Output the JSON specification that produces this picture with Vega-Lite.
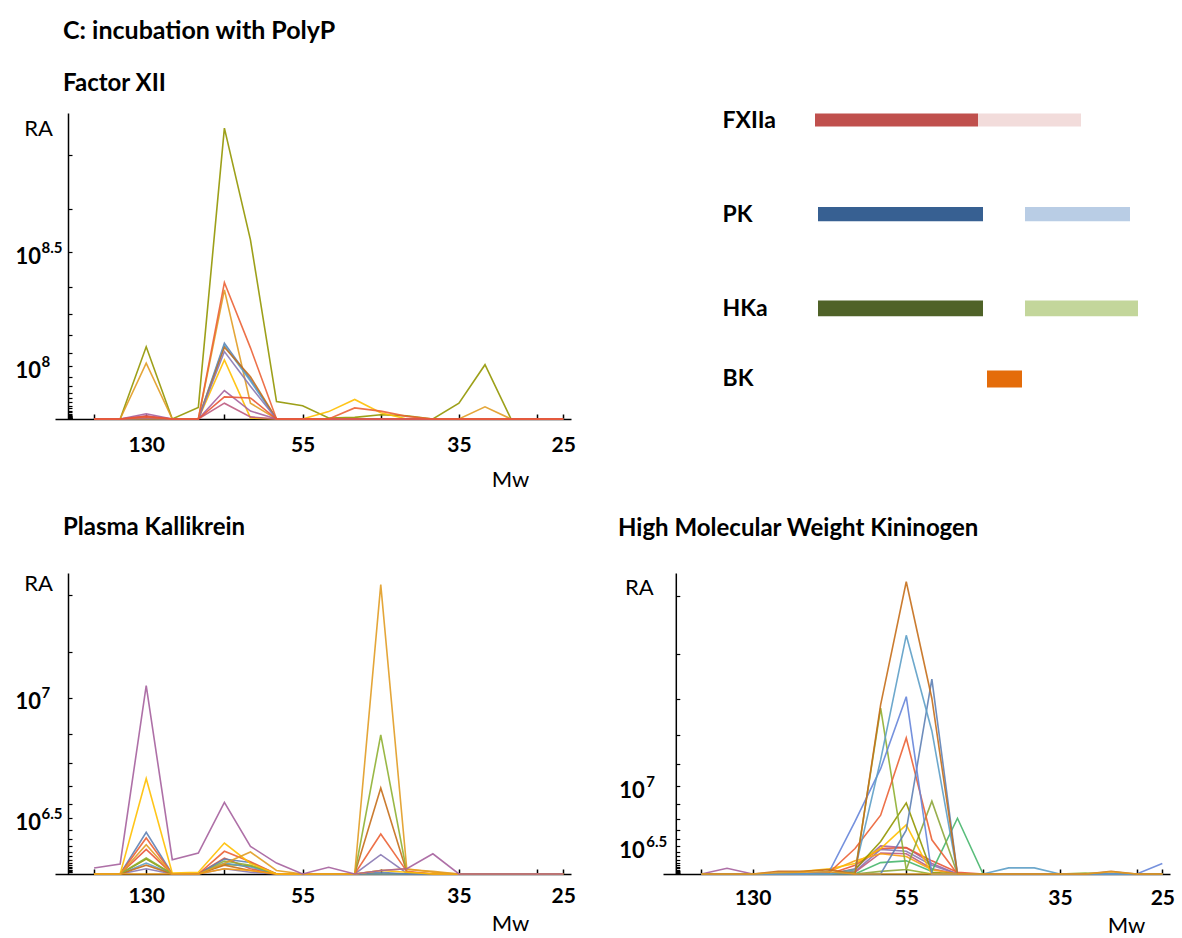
{
  "$schema": "https://vega.github.io/schema/vega-lite/v6.json",
  "background": "white",
  "padding": {"left": 15, "top": 19, "right": 0, "bottom": 0},
  "config": {
    "view": {"stroke": null},
    "font": "Lato",
    "axis": {"domainColor": "black", "tickColor": "black", "labelColor": "black", "titleColor": "black", "grid": false, "labelFont": "Lato", "titleFont": "Lato"}
  },
  "bounds": "flush",
  "columns": 2,
  "spacing": {"row": 154, "column": 92},
  "resolve": {"scale": {"color": "independent", "size": "independent"}},
  "datasets": {
    "fxii": [
      {"k":"10","s":1,"v":0},{"k":"10","s":2,"v":0},{"k":"10","s":3,"v":137e6},{"k":"10","s":4,"v":0},{"k":"10","s":5,"v":22e6},{"k":"10","s":6,"v":552e6},{"k":"10","s":7,"v":340e6},{"k":"10","s":8,"v":33e6},{"k":"10","s":9,"v":25e6},{"k":"10","s":10,"v":2e6},{"k":"10","s":11,"v":3e6},{"k":"10","s":12,"v":8e6},{"k":"10","s":13,"v":6e6},{"k":"10","s":14,"v":0},{"k":"10","s":15,"v":30e6},{"k":"10","s":16,"v":103e6},{"k":"10","s":17,"v":0},{"k":"10","s":18,"v":0},{"k":"10","s":19,"v":0},
      {"k":"2","s":1,"v":0},{"k":"2","s":2,"v":0},{"k":"2","s":3,"v":106e6},{"k":"2","s":4,"v":0},{"k":"2","s":5,"v":0},{"k":"2","s":6,"v":245e6},{"k":"2","s":7,"v":30e6},{"k":"2","s":8,"v":0},{"k":"2","s":9,"v":0},{"k":"2","s":10,"v":0},{"k":"2","s":11,"v":0},{"k":"2","s":12,"v":0},{"k":"2","s":13,"v":0},{"k":"2","s":14,"v":0},{"k":"2","s":15,"v":0},{"k":"2","s":16,"v":23e6},{"k":"2","s":17,"v":0},{"k":"2","s":18,"v":0},{"k":"2","s":19,"v":0},
      {"k":"8","s":1,"v":0},{"k":"8","s":2,"v":0},{"k":"8","s":3,"v":0},{"k":"8","s":4,"v":0},{"k":"8","s":5,"v":0},{"k":"8","s":6,"v":112e6},{"k":"8","s":7,"v":2e6},{"k":"8","s":8,"v":0},{"k":"8","s":9,"v":0},{"k":"8","s":10,"v":14e6},{"k":"8","s":11,"v":37e6},{"k":"8","s":12,"v":12e6},{"k":"8","s":13,"v":0},{"k":"8","s":14,"v":0},{"k":"8","s":15,"v":0},{"k":"8","s":16,"v":0},{"k":"8","s":17,"v":0},{"k":"8","s":18,"v":0},{"k":"8","s":19,"v":0},
      {"k":"1","s":1,"v":0},{"k":"1","s":2,"v":0},{"k":"1","s":3,"v":0},{"k":"1","s":4,"v":0},{"k":"1","s":5,"v":0},{"k":"1","s":6,"v":144e6},{"k":"1","s":7,"v":75e6},{"k":"1","s":8,"v":0},{"k":"1","s":9,"v":0},{"k":"1","s":10,"v":0},{"k":"1","s":11,"v":0},{"k":"1","s":12,"v":0},{"k":"1","s":13,"v":0},{"k":"1","s":14,"v":0},{"k":"1","s":15,"v":0},{"k":"1","s":16,"v":0},{"k":"1","s":17,"v":0},{"k":"1","s":18,"v":0},{"k":"1","s":19,"v":0},
      {"k":"7","s":1,"v":0},{"k":"7","s":2,"v":0},{"k":"7","s":3,"v":0},{"k":"7","s":4,"v":0},{"k":"7","s":5,"v":0},{"k":"7","s":6,"v":140e6},{"k":"7","s":7,"v":72e6},{"k":"7","s":8,"v":0},{"k":"7","s":9,"v":0},{"k":"7","s":10,"v":0},{"k":"7","s":11,"v":0},{"k":"7","s":12,"v":0},{"k":"7","s":13,"v":0},{"k":"7","s":14,"v":0},{"k":"7","s":15,"v":0},{"k":"7","s":16,"v":0},{"k":"7","s":17,"v":0},{"k":"7","s":18,"v":0},{"k":"7","s":19,"v":0},
      {"k":"6","s":1,"v":0},{"k":"6","s":2,"v":0},{"k":"6","s":3,"v":0},{"k":"6","s":4,"v":0},{"k":"6","s":5,"v":0},{"k":"6","s":6,"v":136e6},{"k":"6","s":7,"v":80e6},{"k":"6","s":8,"v":0},{"k":"6","s":9,"v":0},{"k":"6","s":10,"v":0},{"k":"6","s":11,"v":0},{"k":"6","s":12,"v":0},{"k":"6","s":13,"v":0},{"k":"6","s":14,"v":0},{"k":"6","s":15,"v":0},{"k":"6","s":16,"v":0},{"k":"6","s":17,"v":0},{"k":"6","s":18,"v":0},{"k":"6","s":19,"v":0},
      {"k":"5","s":1,"v":0},{"k":"5","s":2,"v":0},{"k":"5","s":3,"v":2e6},{"k":"5","s":4,"v":0},{"k":"5","s":5,"v":0},{"k":"5","s":6,"v":128e6},{"k":"5","s":7,"v":62e6},{"k":"5","s":8,"v":0},{"k":"5","s":9,"v":0},{"k":"5","s":10,"v":0},{"k":"5","s":11,"v":0},{"k":"5","s":12,"v":0},{"k":"5","s":13,"v":0},{"k":"5","s":14,"v":0},{"k":"5","s":15,"v":0},{"k":"5","s":16,"v":0},{"k":"5","s":17,"v":0},{"k":"5","s":18,"v":0},{"k":"5","s":19,"v":0},
      {"k":"9","s":1,"v":0},{"k":"9","s":2,"v":0},{"k":"9","s":3,"v":10e6},{"k":"9","s":4,"v":0},{"k":"9","s":5,"v":0},{"k":"9","s":6,"v":54e6},{"k":"9","s":7,"v":15e6},{"k":"9","s":8,"v":0},{"k":"9","s":9,"v":0},{"k":"9","s":10,"v":0},{"k":"9","s":11,"v":0},{"k":"9","s":12,"v":0},{"k":"9","s":13,"v":0},{"k":"9","s":14,"v":0},{"k":"9","s":15,"v":0},{"k":"9","s":16,"v":0},{"k":"9","s":17,"v":0},{"k":"9","s":18,"v":0},{"k":"9","s":19,"v":0},
      {"k":"14","s":1,"v":0},{"k":"14","s":2,"v":0},{"k":"14","s":3,"v":6e6},{"k":"14","s":4,"v":0},{"k":"14","s":5,"v":0},{"k":"14","s":6,"v":30e6},{"k":"14","s":7,"v":4e6},{"k":"14","s":8,"v":0},{"k":"14","s":9,"v":0},{"k":"14","s":10,"v":0},{"k":"14","s":11,"v":0},{"k":"14","s":12,"v":0},{"k":"14","s":13,"v":0},{"k":"14","s":14,"v":0},{"k":"14","s":15,"v":0},{"k":"14","s":16,"v":0},{"k":"14","s":17,"v":0},{"k":"14","s":18,"v":0},{"k":"14","s":19,"v":0},
      {"k":"4","s":1,"v":0},{"k":"4","s":2,"v":0},{"k":"4","s":3,"v":3e6},{"k":"4","s":4,"v":0},{"k":"4","s":5,"v":0},{"k":"4","s":6,"v":259e6},{"k":"4","s":7,"v":135e6},{"k":"4","s":8,"v":0},{"k":"4","s":9,"v":0},{"k":"4","s":10,"v":0},{"k":"4","s":11,"v":21e6},{"k":"4","s":12,"v":15e6},{"k":"4","s":13,"v":5e6},{"k":"4","s":14,"v":0},{"k":"4","s":15,"v":0},{"k":"4","s":16,"v":0},{"k":"4","s":17,"v":0},{"k":"4","s":18,"v":0},{"k":"4","s":19,"v":0},
      {"k":"11","s":1,"v":0},{"k":"11","s":2,"v":0},{"k":"11","s":3,"v":5e6},{"k":"11","s":4,"v":0},{"k":"11","s":5,"v":0},{"k":"11","s":6,"v":42e6},{"k":"11","s":7,"v":40e6},{"k":"11","s":8,"v":0},{"k":"11","s":9,"v":0},{"k":"11","s":10,"v":0},{"k":"11","s":11,"v":0},{"k":"11","s":12,"v":0},{"k":"11","s":13,"v":0},{"k":"11","s":14,"v":0},{"k":"11","s":15,"v":0},{"k":"11","s":16,"v":0},{"k":"11","s":17,"v":0},{"k":"11","s":18,"v":0},{"k":"11","s":19,"v":0}
    ],
    "pk": [
      {"k":"11","s":1,"v":0},{"k":"11","s":2,"v":0},{"k":"11","s":3,"v":1.4e6},{"k":"11","s":4,"v":0},{"k":"11","s":5,"v":0},{"k":"11","s":6,"v":0.9e6},{"k":"11","s":7,"v":0.3e6},{"k":"11","s":8,"v":0},{"k":"11","s":9,"v":0},{"k":"11","s":10,"v":0},{"k":"11","s":11,"v":0},{"k":"11","s":12,"v":0},{"k":"11","s":13,"v":0},{"k":"11","s":14,"v":0},{"k":"11","s":15,"v":0},{"k":"11","s":16,"v":0},{"k":"11","s":17,"v":0},{"k":"11","s":18,"v":0},{"k":"11","s":19,"v":0},
      {"k":"10","s":1,"v":0},{"k":"10","s":2,"v":0},{"k":"10","s":3,"v":0.85e6},{"k":"10","s":4,"v":0},{"k":"10","s":5,"v":0},{"k":"10","s":6,"v":0.55e6},{"k":"10","s":7,"v":0.45e6},{"k":"10","s":8,"v":0},{"k":"10","s":9,"v":0},{"k":"10","s":10,"v":0},{"k":"10","s":11,"v":0},{"k":"10","s":12,"v":0},{"k":"10","s":13,"v":0},{"k":"10","s":14,"v":0},{"k":"10","s":15,"v":0},{"k":"10","s":16,"v":0},{"k":"10","s":17,"v":0},{"k":"10","s":18,"v":0},{"k":"10","s":19,"v":0},
      {"k":"7","s":1,"v":0},{"k":"7","s":2,"v":0},{"k":"7","s":3,"v":0.62e6},{"k":"7","s":4,"v":0},{"k":"7","s":5,"v":0},{"k":"7","s":6,"v":0.62e6},{"k":"7","s":7,"v":0.4e6},{"k":"7","s":8,"v":0},{"k":"7","s":9,"v":0},{"k":"7","s":10,"v":0},{"k":"7","s":11,"v":0},{"k":"7","s":12,"v":0},{"k":"7","s":13,"v":0},{"k":"7","s":14,"v":0},{"k":"7","s":15,"v":0},{"k":"7","s":16,"v":0},{"k":"7","s":17,"v":0},{"k":"7","s":18,"v":0},{"k":"7","s":19,"v":0},
      {"k":"5","s":1,"v":0},{"k":"5","s":2,"v":0},{"k":"5","s":3,"v":0.3e6},{"k":"5","s":4,"v":0},{"k":"5","s":5,"v":0},{"k":"5","s":6,"v":0.3e6},{"k":"5","s":7,"v":0.1e6},{"k":"5","s":8,"v":0},{"k":"5","s":9,"v":0},{"k":"5","s":10,"v":0},{"k":"5","s":11,"v":0},{"k":"5","s":12,"v":1.1e6},{"k":"5","s":13,"v":0.05e6},{"k":"5","s":14,"v":0},{"k":"5","s":15,"v":0},{"k":"5","s":16,"v":0},{"k":"5","s":17,"v":0},{"k":"5","s":18,"v":0},{"k":"5","s":19,"v":0},
      {"k":"6","s":1,"v":0},{"k":"6","s":2,"v":0},{"k":"6","s":3,"v":0.5e6},{"k":"6","s":4,"v":0},{"k":"6","s":5,"v":0},{"k":"6","s":6,"v":0.5e6},{"k":"6","s":7,"v":0.2e6},{"k":"6","s":8,"v":0},{"k":"6","s":9,"v":0},{"k":"6","s":10,"v":0},{"k":"6","s":11,"v":0},{"k":"6","s":12,"v":4.89e6},{"k":"6","s":13,"v":0.1e6},{"k":"6","s":14,"v":0},{"k":"6","s":15,"v":0},{"k":"6","s":16,"v":0},{"k":"6","s":17,"v":0},{"k":"6","s":18,"v":0},{"k":"6","s":19,"v":0},
      {"k":"3","s":1,"v":0},{"k":"3","s":2,"v":0},{"k":"3","s":3,"v":0.91e6},{"k":"3","s":4,"v":0},{"k":"3","s":5,"v":0},{"k":"3","s":6,"v":0.74e6},{"k":"3","s":7,"v":0.5e6},{"k":"3","s":8,"v":0},{"k":"3","s":9,"v":0},{"k":"3","s":10,"v":0},{"k":"3","s":11,"v":0},{"k":"3","s":12,"v":7.9e6},{"k":"3","s":13,"v":0.1e6},{"k":"3","s":14,"v":0},{"k":"3","s":15,"v":0},{"k":"3","s":16,"v":0},{"k":"3","s":17,"v":0},{"k":"3","s":18,"v":0},{"k":"3","s":19,"v":0},
      {"k":"1","s":1,"v":0},{"k":"1","s":2,"v":0},{"k":"1","s":3,"v":2.37e6},{"k":"1","s":4,"v":0},{"k":"1","s":5,"v":0},{"k":"1","s":6,"v":0.85e6},{"k":"1","s":7,"v":0.65e6},{"k":"1","s":8,"v":0},{"k":"1","s":9,"v":0},{"k":"1","s":10,"v":0},{"k":"1","s":11,"v":0},{"k":"1","s":12,"v":0.1e6},{"k":"1","s":13,"v":0},{"k":"1","s":14,"v":0},{"k":"1","s":15,"v":0},{"k":"1","s":16,"v":0},{"k":"1","s":17,"v":0},{"k":"1","s":18,"v":0},{"k":"1","s":19,"v":0},
      {"k":"13","s":1,"v":0},{"k":"13","s":2,"v":0},{"k":"13","s":3,"v":0},{"k":"13","s":4,"v":0},{"k":"13","s":5,"v":0},{"k":"13","s":6,"v":0.3e6},{"k":"13","s":7,"v":0.2e6},{"k":"13","s":8,"v":0},{"k":"13","s":9,"v":0},{"k":"13","s":10,"v":0},{"k":"13","s":11,"v":0},{"k":"13","s":12,"v":0.2e6},{"k":"13","s":13,"v":0.3e6},{"k":"13","s":14,"v":0.1e6},{"k":"13","s":15,"v":0},{"k":"13","s":16,"v":0},{"k":"13","s":17,"v":0},{"k":"13","s":18,"v":0},{"k":"13","s":19,"v":0},
      {"k":"4","s":1,"v":0},{"k":"4","s":2,"v":0},{"k":"4","s":3,"v":2.05e6},{"k":"4","s":4,"v":0},{"k":"4","s":5,"v":0},{"k":"4","s":6,"v":1.29e6},{"k":"4","s":7,"v":0.7e6},{"k":"4","s":8,"v":0},{"k":"4","s":9,"v":0},{"k":"4","s":10,"v":0},{"k":"4","s":11,"v":0},{"k":"4","s":12,"v":2.27e6},{"k":"4","s":13,"v":0.15e6},{"k":"4","s":14,"v":0},{"k":"4","s":15,"v":0},{"k":"4","s":16,"v":0},{"k":"4","s":17,"v":0},{"k":"4","s":18,"v":0},{"k":"4","s":19,"v":0},
      {"k":"8","s":1,"v":0},{"k":"8","s":2,"v":0},{"k":"8","s":3,"v":5.42e6},{"k":"8","s":4,"v":0.05e6},{"k":"8","s":5,"v":0.1e6},{"k":"8","s":6,"v":1.76e6},{"k":"8","s":7,"v":0.6e6},{"k":"8","s":8,"v":0},{"k":"8","s":9,"v":0},{"k":"8","s":10,"v":0},{"k":"8","s":11,"v":0},{"k":"8","s":12,"v":0.2e6},{"k":"8","s":13,"v":0.1e6},{"k":"8","s":14,"v":0},{"k":"8","s":15,"v":0},{"k":"8","s":16,"v":0},{"k":"8","s":17,"v":0},{"k":"8","s":18,"v":0},{"k":"8","s":19,"v":0},
      {"k":"2","s":1,"v":0},{"k":"2","s":2,"v":0},{"k":"2","s":3,"v":1.66e6},{"k":"2","s":4,"v":0},{"k":"2","s":5,"v":0},{"k":"2","s":6,"v":0.6e6},{"k":"2","s":7,"v":1.25e6},{"k":"2","s":8,"v":0.2e6},{"k":"2","s":9,"v":0},{"k":"2","s":10,"v":0},{"k":"2","s":11,"v":0},{"k":"2","s":12,"v":16.44e6},{"k":"2","s":13,"v":0.25e6},{"k":"2","s":14,"v":0.15e6},{"k":"2","s":15,"v":0},{"k":"2","s":16,"v":0},{"k":"2","s":17,"v":0},{"k":"2","s":18,"v":0},{"k":"2","s":19,"v":0},
      {"k":"9","s":1,"v":0.34e6},{"k":"9","s":2,"v":0.57e6},{"k":"9","s":3,"v":10.7e6},{"k":"9","s":4,"v":0.81e6},{"k":"9","s":5,"v":1.19e6},{"k":"9","s":6,"v":4.07e6},{"k":"9","s":7,"v":1.57e6},{"k":"9","s":8,"v":0.62e6},{"k":"9","s":9,"v":0},{"k":"9","s":10,"v":0.38e6},{"k":"9","s":11,"v":0},{"k":"9","s":12,"v":0.2e6},{"k":"9","s":13,"v":0.3e6},{"k":"9","s":14,"v":1.15e6},{"k":"9","s":15,"v":0},{"k":"9","s":16,"v":0},{"k":"9","s":17,"v":0},{"k":"9","s":18,"v":0},{"k":"9","s":19,"v":0}
    ],
    "hk": [
      {"k":"9","s":1,"v":0},{"k":"9","s":2,"v":0.65e6},{"k":"9","s":3,"v":0},{"k":"9","s":4,"v":0},{"k":"9","s":5,"v":0},{"k":"9","s":6,"v":0},{"k":"9","s":7,"v":0.6e6},{"k":"9","s":8,"v":3.2e6},{"k":"9","s":9,"v":3.0e6},{"k":"9","s":10,"v":1.2e6},{"k":"9","s":11,"v":0},{"k":"9","s":12,"v":0},{"k":"9","s":13,"v":0},{"k":"9","s":14,"v":0},{"k":"9","s":15,"v":0},{"k":"9","s":16,"v":0},{"k":"9","s":17,"v":0},{"k":"9","s":18,"v":0},{"k":"9","s":19,"v":0},
      {"k":"5","s":1,"v":0},{"k":"5","s":2,"v":0},{"k":"5","s":3,"v":0},{"k":"5","s":4,"v":0},{"k":"5","s":5,"v":0},{"k":"5","s":6,"v":0},{"k":"5","s":7,"v":0.3e6},{"k":"5","s":8,"v":2.8e6},{"k":"5","s":9,"v":2.6e6},{"k":"5","s":10,"v":1.0e6},{"k":"5","s":11,"v":0},{"k":"5","s":12,"v":0},{"k":"5","s":13,"v":0},{"k":"5","s":14,"v":0},{"k":"5","s":15,"v":0},{"k":"5","s":16,"v":0},{"k":"5","s":17,"v":0},{"k":"5","s":18,"v":0},{"k":"5","s":19,"v":0},
      {"k":"14","s":1,"v":0},{"k":"14","s":2,"v":0},{"k":"14","s":3,"v":0},{"k":"14","s":4,"v":0},{"k":"14","s":5,"v":0},{"k":"14","s":6,"v":0},{"k":"14","s":7,"v":0.2e6},{"k":"14","s":8,"v":2.4e6},{"k":"14","s":9,"v":2.3e6},{"k":"14","s":10,"v":0.6e6},{"k":"14","s":11,"v":0},{"k":"14","s":12,"v":0},{"k":"14","s":13,"v":0},{"k":"14","s":14,"v":0},{"k":"14","s":15,"v":0},{"k":"14","s":16,"v":0},{"k":"14","s":17,"v":0},{"k":"14","s":18,"v":0},{"k":"14","s":19,"v":0},
      {"k":"11","s":1,"v":0},{"k":"11","s":2,"v":0},{"k":"11","s":3,"v":0},{"k":"11","s":4,"v":0},{"k":"11","s":5,"v":0},{"k":"11","s":6,"v":0},{"k":"11","s":7,"v":1.0e6},{"k":"11","s":8,"v":2.9e6},{"k":"11","s":9,"v":3.0e6},{"k":"11","s":10,"v":1.5e6},{"k":"11","s":11,"v":0.2e6},{"k":"11","s":12,"v":0},{"k":"11","s":13,"v":0},{"k":"11","s":14,"v":0},{"k":"11","s":15,"v":0},{"k":"11","s":16,"v":0},{"k":"11","s":17,"v":0},{"k":"11","s":18,"v":0},{"k":"11","s":19,"v":0},
      {"k":"13","s":1,"v":0},{"k":"13","s":2,"v":0},{"k":"13","s":3,"v":0},{"k":"13","s":4,"v":0},{"k":"13","s":5,"v":0},{"k":"13","s":6,"v":0.3e6},{"k":"13","s":7,"v":1.5e6},{"k":"13","s":8,"v":2.3e6},{"k":"13","s":9,"v":2.0e6},{"k":"13","s":10,"v":0.5e6},{"k":"13","s":11,"v":0},{"k":"13","s":12,"v":0},{"k":"13","s":13,"v":0},{"k":"13","s":14,"v":0},{"k":"13","s":15,"v":0},{"k":"13","s":16,"v":0},{"k":"13","s":17,"v":0},{"k":"13","s":18,"v":0},{"k":"13","s":19,"v":0},
      {"k":"15","s":1,"v":0},{"k":"15","s":2,"v":0},{"k":"15","s":3,"v":0},{"k":"15","s":4,"v":0},{"k":"15","s":5,"v":0},{"k":"15","s":6,"v":0},{"k":"15","s":7,"v":0},{"k":"15","s":8,"v":1.3e6},{"k":"15","s":9,"v":1.5e6},{"k":"15","s":10,"v":0.3e6},{"k":"15","s":11,"v":6.35e6},{"k":"15","s":12,"v":0},{"k":"15","s":13,"v":0},{"k":"15","s":14,"v":0},{"k":"15","s":15,"v":0},{"k":"15","s":16,"v":0},{"k":"15","s":17,"v":0},{"k":"15","s":18,"v":0},{"k":"15","s":19,"v":0},
      {"k":"8","s":1,"v":0},{"k":"8","s":2,"v":0},{"k":"8","s":3,"v":0},{"k":"8","s":4,"v":0},{"k":"8","s":5,"v":0.3e6},{"k":"8","s":6,"v":0.6e6},{"k":"8","s":7,"v":1.2e6},{"k":"8","s":8,"v":2.9e6},{"k":"8","s":9,"v":5.6e6},{"k":"8","s":10,"v":0},{"k":"8","s":11,"v":0},{"k":"8","s":12,"v":0},{"k":"8","s":13,"v":0},{"k":"8","s":14,"v":0},{"k":"8","s":15,"v":0},{"k":"8","s":16,"v":0},{"k":"8","s":17,"v":0},{"k":"8","s":18,"v":0},{"k":"8","s":19,"v":0},
      {"k":"16","s":1,"v":0},{"k":"16","s":2,"v":0},{"k":"16","s":3,"v":0},{"k":"16","s":4,"v":0},{"k":"16","s":5,"v":0},{"k":"16","s":6,"v":0},{"k":"16","s":7,"v":0},{"k":"16","s":8,"v":0.3e6},{"k":"16","s":9,"v":0.5e6},{"k":"16","s":10,"v":8.3e6},{"k":"16","s":11,"v":0},{"k":"16","s":12,"v":0},{"k":"16","s":13,"v":0},{"k":"16","s":14,"v":0},{"k":"16","s":15,"v":0},{"k":"16","s":16,"v":0},{"k":"16","s":17,"v":0},{"k":"16","s":18,"v":0},{"k":"16","s":19,"v":0},
      {"k":"10","s":1,"v":0},{"k":"10","s":2,"v":0},{"k":"10","s":3,"v":0},{"k":"10","s":4,"v":0},{"k":"10","s":5,"v":0},{"k":"10","s":6,"v":0},{"k":"10","s":7,"v":0.5e6},{"k":"10","s":8,"v":3.7e6},{"k":"10","s":9,"v":8.1e6},{"k":"10","s":10,"v":0.2e6},{"k":"10","s":11,"v":0},{"k":"10","s":12,"v":0},{"k":"10","s":13,"v":0},{"k":"10","s":14,"v":0},{"k":"10","s":15,"v":0},{"k":"10","s":16,"v":0},{"k":"10","s":17,"v":0},{"k":"10","s":18,"v":0},{"k":"10","s":19,"v":0},
      {"k":"3","s":1,"v":0},{"k":"3","s":2,"v":0},{"k":"3","s":3,"v":0},{"k":"3","s":4,"v":0},{"k":"3","s":5,"v":0},{"k":"3","s":6,"v":0},{"k":"3","s":7,"v":0.2e6},{"k":"3","s":8,"v":18.9e6},{"k":"3","s":9,"v":0.5e6},{"k":"3","s":10,"v":0},{"k":"3","s":11,"v":0},{"k":"3","s":12,"v":0},{"k":"3","s":13,"v":0},{"k":"3","s":14,"v":0},{"k":"3","s":15,"v":0},{"k":"3","s":16,"v":0.1e6},{"k":"3","s":17,"v":0},{"k":"3","s":18,"v":0},{"k":"3","s":19,"v":0},
      {"k":"4","s":1,"v":0},{"k":"4","s":2,"v":0},{"k":"4","s":3,"v":0},{"k":"4","s":4,"v":0},{"k":"4","s":5,"v":0},{"k":"4","s":6,"v":0.2e6},{"k":"4","s":7,"v":2.9e6},{"k":"4","s":8,"v":6.7e6},{"k":"4","s":9,"v":15.5e6},{"k":"4","s":10,"v":3.9e6},{"k":"4","s":11,"v":0},{"k":"4","s":12,"v":0},{"k":"4","s":13,"v":0},{"k":"4","s":14,"v":0},{"k":"4","s":15,"v":0},{"k":"4","s":16,"v":0},{"k":"4","s":17,"v":0},{"k":"4","s":18,"v":0},{"k":"4","s":19,"v":0},
      {"k":"1","s":1,"v":0},{"k":"1","s":2,"v":0},{"k":"1","s":3,"v":0},{"k":"1","s":4,"v":0},{"k":"1","s":5,"v":0},{"k":"1","s":6,"v":0},{"k":"1","s":7,"v":0},{"k":"1","s":8,"v":0},{"k":"1","s":9,"v":5e6},{"k":"1","s":10,"v":22.2e6},{"k":"1","s":11,"v":0},{"k":"1","s":12,"v":0},{"k":"1","s":13,"v":0},{"k":"1","s":14,"v":0},{"k":"1","s":15,"v":0},{"k":"1","s":16,"v":0},{"k":"1","s":17,"v":0},{"k":"1","s":18,"v":0},{"k":"1","s":19,"v":0},
      {"k":"12","s":1,"v":0},{"k":"12","s":2,"v":0},{"k":"12","s":3,"v":0},{"k":"12","s":4,"v":0},{"k":"12","s":5,"v":0},{"k":"12","s":6,"v":0.3e6},{"k":"12","s":7,"v":6e6},{"k":"12","s":8,"v":12e6},{"k":"12","s":9,"v":20.2e6},{"k":"12","s":10,"v":0},{"k":"12","s":11,"v":0},{"k":"12","s":12,"v":0},{"k":"12","s":13,"v":0},{"k":"12","s":14,"v":0},{"k":"12","s":15,"v":0},{"k":"12","s":16,"v":0},{"k":"12","s":17,"v":0},{"k":"12","s":18,"v":0},{"k":"12","s":19,"v":1.2e6},
      {"k":"7","s":1,"v":0},{"k":"7","s":2,"v":0},{"k":"7","s":3,"v":0},{"k":"7","s":4,"v":0},{"k":"7","s":5,"v":0},{"k":"7","s":6,"v":0},{"k":"7","s":7,"v":0.5e6},{"k":"7","s":8,"v":13e6},{"k":"7","s":9,"v":27.2e6},{"k":"7","s":10,"v":16.3e6},{"k":"7","s":11,"v":0},{"k":"7","s":12,"v":0},{"k":"7","s":13,"v":0.7e6},{"k":"7","s":14,"v":0.7e6},{"k":"7","s":15,"v":0},{"k":"7","s":16,"v":0},{"k":"7","s":17,"v":0},{"k":"7","s":18,"v":0},{"k":"7","s":19,"v":0},
      {"k":"6","s":1,"v":0},{"k":"6","s":2,"v":0},{"k":"6","s":3,"v":0},{"k":"6","s":4,"v":0.3e6},{"k":"6","s":5,"v":0.3e6},{"k":"6","s":6,"v":0.5e6},{"k":"6","s":7,"v":0},{"k":"6","s":8,"v":19.3e6},{"k":"6","s":9,"v":33.3e6},{"k":"6","s":10,"v":20e6},{"k":"6","s":11,"v":0},{"k":"6","s":12,"v":0},{"k":"6","s":13,"v":0},{"k":"6","s":14,"v":0},{"k":"6","s":15,"v":0},{"k":"6","s":16,"v":0},{"k":"6","s":17,"v":0.3e6},{"k":"6","s":18,"v":0},{"k":"6","s":19,"v":0},
      {"k":"2","s":1,"v":0},{"k":"2","s":2,"v":0},{"k":"2","s":3,"v":0},{"k":"2","s":4,"v":0.15e6},{"k":"2","s":5,"v":0.2e6},{"k":"2","s":6,"v":0.25e6},{"k":"2","s":7,"v":0},{"k":"2","s":8,"v":0},{"k":"2","s":9,"v":0},{"k":"2","s":10,"v":0},{"k":"2","s":11,"v":0},{"k":"2","s":12,"v":0},{"k":"2","s":13,"v":0},{"k":"2","s":14,"v":0},{"k":"2","s":15,"v":0},{"k":"2","s":16,"v":0},{"k":"2","s":17,"v":0.25e6},{"k":"2","s":18,"v":0},{"k":"2","s":19,"v":0}
    ],
    "segments": [
      {"protein":"FXIIa","part":"FXIIa-1","from":30.4,"to":63.0},
      {"protein":"FXIIa","part":"FXIIa-2","from":63.0,"to":83.6},
      {"protein":"PK","part":"PK-1","from":31.0,"to":64.0},
      {"protein":"PK","part":"PK-2","from":72.4,"to":93.4},
      {"protein":"HKa","part":"HKa-1","from":31.0,"to":64.0},
      {"protein":"HKa","part":"HKa-2","from":72.4,"to":95.0},
      {"protein":"BK","part":"BK","from":64.8,"to":71.8}
    ]
  },
  "concat": [
    {
      "width": 516, "height": 306,
      "data": {"name": "fxii"},
      "title": {"text": "C: incubation with PolyP", "subtitle": "Factor XII", "anchor": "start", "frame": "group", "dx": 8, "offset": 17, "font": "Lato", "fontSize": 25, "fontWeight": "bold", "color": "black", "subtitleFont": "Lato", "subtitleFontSize": 24, "subtitleFontWeight": "bold", "subtitleColor": "black", "subtitlePadding": 28},
      "layer": [
        {
          "mark": {"type": "line", "strokeWidth": 1.6, "opacity": 0.9},
          "encoding": {
            "x": {"field": "s", "type": "quantitative", "scale": {"domain": [-0.5, 19.3], "nice": false, "zero": false},
              "axis": {"values": [1,3,6,9,12,15,18,19], "labelExpr": "datum.value==3?'130':datum.value==9?'55':datum.value==15?'35':datum.value==19?'25':''", "tickSize": -5, "tickWidth": 1.5, "domainWidth": 1.5, "labelFontSize": 21, "labelFontWeight": "bold", "labelBaseline": "middle", "labelPadding": 31, "labelFlush": false, "labelOverlap": false, "title": "Mw", "titleFontSize": 22, "titleFontWeight": "normal", "titleX": 455, "titleY": 60, "titleAlign": "center", "titleBaseline": "middle", "zindex": 0, "grid": false}},
            "y": {"field": "v", "type": "quantitative", "scale": {"domain": [0, 580600000], "nice": false},
              "axis": {"orient": "left", "offset": -13, "values": [1000000,1258925,1584893,1995262,2511886,3162278,3981072,5011872,6309573,7943282,10000000,12589254,15848932,19952623,25118864,31622777,39810717,50118723,63095734,79432823,100000000,125892541,158489319,199526231,251188643,316227766,398107171,501187234], "labelExpr": "datum.value==100000000||datum.value==316227766?'10':''", "tickSize": -4, "tickWidth": 1.2, "domainWidth": 1.5, "labelAlign": "left", "labelBaseline": "middle", "labelPadding": 57, "labelOffset": 4, "labelFontSize": 22, "labelFontWeight": "bold", "labelOverlap": false, "labelFlush": false, "title": "RA", "titleAngle": 0, "titleX": -30, "titleY": 15, "titleAlign": "center", "titleBaseline": "middle", "titleFontSize": 22, "titleFontWeight": "normal", "zindex": 0, "grid": false}},
            "color": {"field": "k", "type": "nominal", "scale": {"domain": ["1","2","3","4","5","6","7","8","9","10","11","12","13","14","15","16"], "range": ["#5E81B5","#E19C24","#8FB032","#EB6235","#8778B3","#C56E1A","#5D9EC7","#FFBF00","#A5609D","#929600","#E95536","#6685D9","#F89F13","#BC5B80","#47B66D","#8DA63B"]}, "legend": null}
          }
        },
        {
          "data": {"values": [{}]},
          "mark": {"type": "rule", "opacity": 0},
          "encoding": {
            "y": {"datum": 100000000, "type": "quantitative",
              "axis": {"orient": "left", "offset": -13, "values": [100000000, 316227766], "labelExpr": "datum.value==100000000?'8':'8.5'", "ticks": false, "domain": false, "labelAlign": "left", "labelBaseline": "middle", "labelPadding": 27, "labelOffset": -5, "labelFontSize": 15, "labelFontWeight": "bold", "labelOverlap": false, "labelFlush": false, "title": null, "grid": false}}
          }
        }
      ],
      "resolve": {"axis": {"y": "independent"}}
    },
    {
      "width": 500, "height": 273,
      "data": {"name": "segments"},
      "mark": "bar",
      "encoding": {
        "x": {"field": "from", "type": "quantitative", "scale": {"domain": [0, 100], "nice": false}, "axis": null},
        "x2": {"field": "to"},
        "y": {"field": "protein", "type": "nominal", "scale": {"type": "point", "domain": ["FXIIa","g1","g2","g3","PK","g4","g5","g6","HKa","g7","g8","BK"], "padding": 0.3},
          "axis": {"orient": "left", "values": ["FXIIa","PK","HKa","BK"], "offset": -59, "labelAlign": "left", "labelBaseline": "middle", "labelPadding": 0, "ticks": false, "domain": false, "labelFontSize": 23, "labelFontWeight": "bold", "title": null, "grid": false}},
        "size": {"field": "protein", "type": "ordinal", "scale": {"domain": ["FXIIa","PK","HKa","BK"], "range": [13,17,17,13]}, "legend": null},
        "color": {"field": "part", "type": "nominal", "scale": {"domain": ["FXIIa-1","FXIIa-2","PK-1","PK-2","HKa-1","HKa-2","BK"], "range": ["#C0504D","#F2DCDB","#376092","#B9CDE5","#4F6228","#C3D69B","#E46C0A"]}, "legend": null}
      }
    },
    {
      "width": 516, "height": 301,
      "data": {"name": "pk"},
      "title": {"text": "Plasma Kallikrein", "anchor": "start", "frame": "group", "dx": 8, "offset": 32, "font": "Lato", "fontSize": 24, "fontWeight": "bold", "color": "black"},
      "layer": [
        {
          "mark": {"type": "line", "strokeWidth": 1.6, "opacity": 0.9},
          "encoding": {
            "x": {"field": "s", "type": "quantitative", "scale": {"domain": [-0.5, 19.3], "nice": false, "zero": false},
              "axis": {"values": [1,3,6,9,12,15,18,19], "labelExpr": "datum.value==3?'130':datum.value==9?'55':datum.value==15?'35':datum.value==19?'25':''", "tickSize": -5, "tickWidth": 1.5, "domainWidth": 1.5, "labelFontSize": 21, "labelFontWeight": "bold", "labelBaseline": "middle", "labelPadding": 27, "labelFlush": false, "labelOverlap": false, "title": "Mw", "titleFontSize": 22, "titleFontWeight": "normal", "titleX": 455, "titleY": 49, "titleAlign": "center", "titleBaseline": "middle", "zindex": 0, "grid": false}},
            "y": {"field": "v", "type": "quantitative", "scale": {"domain": [0, 17100000], "nice": false},
              "axis": {"orient": "left", "offset": -13, "values": [100000,125893,158489,199526,251189,316228,398107,501187,630957,794328,1000000,1258925,1584893,1995262,2511886,3162278,3981072,5011872,6309573,7943282,10000000,12589254,15848932], "labelExpr": "datum.value==10000000||datum.value==3162278?'10':''", "tickSize": -4, "tickWidth": 1.2, "domainWidth": 1.5, "labelAlign": "left", "labelBaseline": "middle", "labelPadding": 57, "labelOffset": 4, "labelFontSize": 22, "labelFontWeight": "bold", "labelOverlap": false, "labelFlush": false, "title": "RA", "titleAngle": 0, "titleX": -30, "titleY": 10, "titleAlign": "center", "titleBaseline": "middle", "titleFontSize": 22, "titleFontWeight": "normal", "zindex": 0, "grid": false}},
            "color": {"field": "k", "type": "nominal", "scale": {"domain": ["1","2","3","4","5","6","7","8","9","10","11","12","13","14","15","16"], "range": ["#5E81B5","#E19C24","#8FB032","#EB6235","#8778B3","#C56E1A","#5D9EC7","#FFBF00","#A5609D","#929600","#E95536","#6685D9","#F89F13","#BC5B80","#47B66D","#8DA63B"]}, "legend": null}
          }
        },
        {
          "data": {"values": [{}]},
          "mark": {"type": "rule", "opacity": 0},
          "encoding": {
            "y": {"datum": 10000000, "type": "quantitative",
              "axis": {"orient": "left", "offset": -13, "values": [10000000, 3162278], "labelExpr": "datum.value==10000000?'7':'6.5'", "ticks": false, "domain": false, "labelAlign": "left", "labelBaseline": "middle", "labelPadding": 27, "labelOffset": -5, "labelFontSize": 15, "labelFontWeight": "bold", "labelOverlap": false, "labelFlush": false, "title": null, "grid": false}}
          }
        }
      ],
      "resolve": {"axis": {"y": "independent"}}
    },
    {
      "width": 507, "height": 301,
      "data": {"name": "hk"},
      "title": {"text": "High Molecular Weight Kininogen", "anchor": "start", "frame": "group", "dx": -45, "offset": 32, "font": "Lato", "fontSize": 24, "fontWeight": "bold", "color": "black"},
      "layer": [
        {
          "mark": {"type": "line", "strokeWidth": 1.6, "opacity": 0.9},
          "encoding": {
            "x": {"field": "s", "type": "quantitative", "scale": {"domain": [-0.5, 19.3], "nice": false, "zero": false},
              "axis": {"values": [1,3,6,9,12,15,18,19], "labelExpr": "datum.value==3?'130':datum.value==9?'55':datum.value==15?'35':datum.value==19?'25':''", "tickSize": -5, "tickWidth": 1.5, "domainWidth": 1.5, "labelFontSize": 21, "labelFontWeight": "bold", "labelBaseline": "middle", "labelPadding": 29, "labelFlush": false, "labelOverlap": false, "title": "Mw", "titleFontSize": 22, "titleFontWeight": "normal", "titleX": 463, "titleY": 51, "titleAlign": "center", "titleBaseline": "middle", "zindex": 0, "grid": false}},
            "y": {"field": "v", "type": "quantitative", "scale": {"domain": [0, 34300000], "nice": false},
              "axis": {"orient": "left", "offset": -12.8, "values": [100000,125893,158489,199526,251189,316228,398107,501187,630957,794328,1000000,1258925,1584893,1995262,2511886,3162278,3981072,5011872,6309573,7943282,10000000,12589254,15848932,19952623,25118864,31622777], "labelExpr": "datum.value==10000000||datum.value==3162278?'10':''", "tickSize": -4, "tickWidth": 1.2, "domainWidth": 1.5, "labelAlign": "left", "labelBaseline": "middle", "labelPadding": 61, "labelOffset": 4, "labelFontSize": 22, "labelFontWeight": "bold", "labelOverlap": false, "labelFlush": false, "title": "RA", "titleAngle": 0, "titleX": -37, "titleY": 14, "titleAlign": "center", "titleBaseline": "middle", "titleFontSize": 22, "titleFontWeight": "normal", "zindex": 0, "grid": false}},
            "color": {"field": "k", "type": "nominal", "scale": {"domain": ["1","2","3","4","5","6","7","8","9","10","11","12","13","14","15","16"], "range": ["#5E81B5","#E19C24","#8FB032","#EB6235","#8778B3","#C56E1A","#5D9EC7","#FFBF00","#A5609D","#929600","#E95536","#6685D9","#F89F13","#BC5B80","#47B66D","#8DA63B"]}, "legend": null}
          }
        },
        {
          "data": {"values": [{}]},
          "mark": {"type": "rule", "opacity": 0},
          "encoding": {
            "y": {"datum": 10000000, "type": "quantitative",
              "axis": {"orient": "left", "offset": -12.8, "values": [10000000, 3162278], "labelExpr": "datum.value==10000000?'7':'6.5'", "ticks": false, "domain": false, "labelAlign": "left", "labelBaseline": "middle", "labelPadding": 30, "labelOffset": -5, "labelFontSize": 15, "labelFontWeight": "bold", "labelOverlap": false, "labelFlush": false, "title": null, "grid": false}}
          }
        }
      ],
      "resolve": {"axis": {"y": "independent"}}
    }
  ]
}
